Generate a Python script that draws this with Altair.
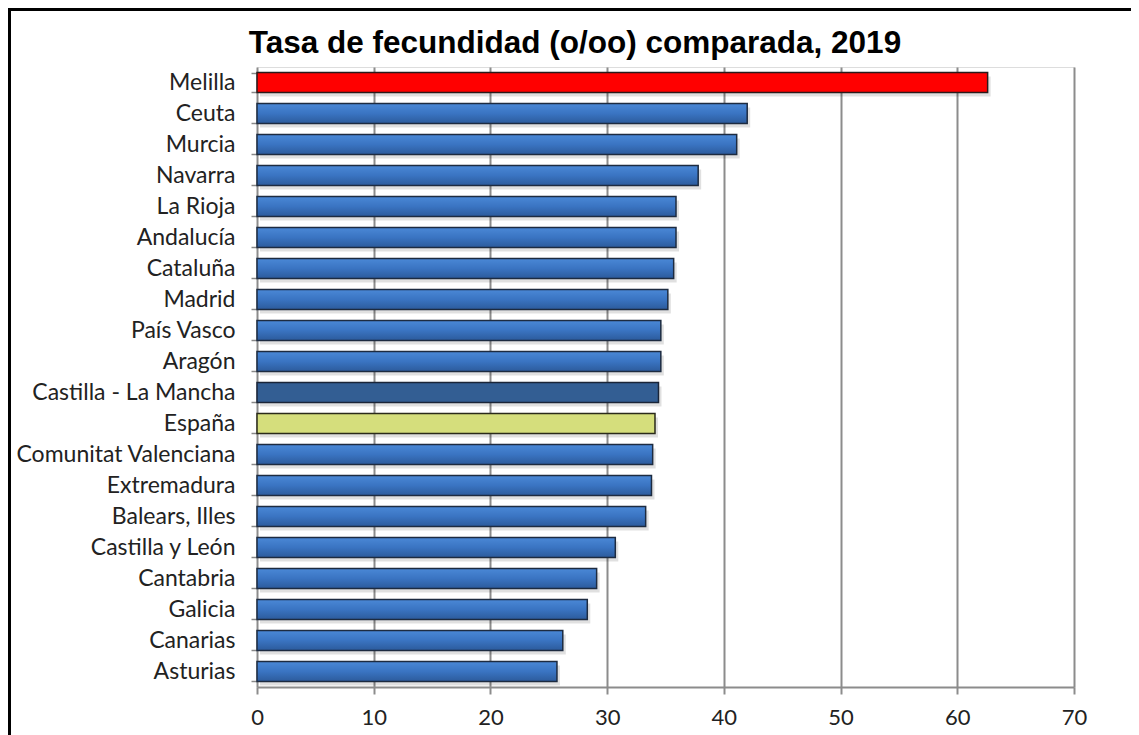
import altair as alt
import pandas as pd

regions = ["Melilla", "Ceuta", "Murcia", "Navarra", "La Rioja", "Andalucía",
           "Cataluña", "Madrid", "País Vasco", "Aragón", "Castilla - La Mancha",
           "España", "Comunitat Valenciana", "Extremadura", "Balears, Illes",
           "Castilla y León", "Cantabria", "Galicia", "Canarias", "Asturias"]
values = [62.6, 42.0, 41.1, 37.8, 35.9, 35.9, 35.7, 35.2, 34.6, 34.6, 34.4,
          34.1, 33.9, 33.8, 33.3, 30.7, 29.1, 28.3, 26.2, 25.7]
title_text = ["Tasa de fecundidad (o/oo) comparada, 2019"]

df = pd.DataFrame({"region": regions, "value": values})

W, H = 817, 620
PAD_L, PAD_T, PAD_R, PAD_B = 249, 59, 57, 49

y_enc = alt.Y("region:N", sort=regions, title=None,
              scale=alt.Scale(paddingInner=0.36, paddingOuter=0.18),
              axis=alt.Axis(tickBand="extent", domain=False, ticks=True,
                            tickColor="#888888", tickSize=6, tickWidth=1.5,
                            labelFont="Lato", labelFontSize=23, labelColor="#222222",
                            labelPadding=16, labelLimit=0, grid=False))
x_enc = alt.X("value:Q", title=None,
              scale=alt.Scale(domain=[0, 70], nice=False),
              axis=alt.Axis(values=[0, 10, 20, 30, 40, 50, 60, 70], grid=True,
                            gridColor="#8c8c8c", gridWidth=2, gridOpacity=1,
                            domainColor="#8c8c8c", domainWidth=2,
                            tickColor="#8c8c8c", tickWidth=2, tickSize=7,
                            labelFont="Lato", labelFontSize=22, labelColor="#222222",
                            labelPadding=13, labelFlush=False))

base = alt.Chart(df).encode(y=y_enc, x=x_enc)

shadow = base.mark_bar(color="#000000", opacity=0.12, xOffset=3, yOffset=4)

blue_grad = alt.Gradient(gradient="linear", x1=0, y1=0, x2=0, y2=1,
                         stops=[alt.GradientStop(offset=0, color="#4A88D6"),
                                alt.GradientStop(offset=0.5, color="#3A74C2"),
                                alt.GradientStop(offset=1, color="#2C5B9C")])

special = ["Melilla", "España", "Castilla - La Mancha"]
blue = base.transform_filter(
    ~alt.FieldOneOfPredicate(field="region", oneOf=special)
).mark_bar(color=blue_grad, stroke="#1d2b40", strokeWidth=1.5)

red = base.transform_filter(alt.datum.region == "Melilla").mark_bar(
    color="#FF0000", stroke="#2a1a1a", strokeWidth=1.5)
green = base.transform_filter(alt.datum.region == "España").mark_bar(
    color="#D5DE7C", stroke="#2a2a1a", strokeWidth=1.5)
dark = base.transform_filter(alt.datum.region == "Castilla - La Mancha").mark_bar(
    color="#335E93", stroke="#1a2538", strokeWidth=1.5)

frame = alt.Chart(alt.InlineData(values=[{}])).mark_rect(
    fill=None, stroke="#000000", strokeWidth=3, clip=False
).encode(x=alt.value(-PAD_L + 1.5), x2=alt.value(W + PAD_R + 20),
         y=alt.value(-PAD_T + 1.5), y2=alt.value(H + PAD_B + 20))

title = alt.Chart(pd.DataFrame({"t": title_text})).mark_text(
    font="Liberation Sans", fontSize=31.5, fontWeight="bold", color="#000000",
    align="center", baseline="alphabetic"
).encode(text="t:N", x=alt.value(318), y=alt.value(-14))

chart = alt.layer(shadow, blue, red, green, dark, frame, title).properties(
    width=W, height=H,
    autosize=alt.AutoSizeParams(type="none"),
    padding={"left": PAD_L, "top": PAD_T, "right": PAD_R, "bottom": PAD_B},
).configure_view(stroke=None).configure(background="white")

chart.save("out.html", embed_options={"renderer": "svg", "actions": False})
